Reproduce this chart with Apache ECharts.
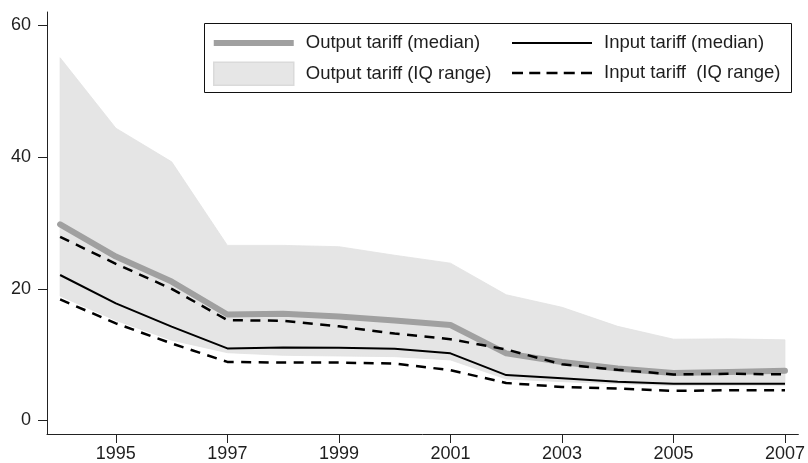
<!DOCTYPE html>
<html>
<head>
<meta charset="utf-8">
<script src="https://cdn.jsdelivr.net/npm/echarts@6/dist/echarts.min.js"></script>
<style>
html,body{margin:0;padding:0;background:#fff;}
#c{width:808px;height:463px;}
</style>
</head>
<body>
<div id="c"></div>
<script>
// ---- data ----
const years = [1994, 1995, 1996, 1997, 1998, 1999, 2000, 2001, 2002, 2003, 2004, 2005, 2006, 2007];
const outputMedian = [29.8, 24.9, 21.1, 16.1, 16.2, 15.8, 15.2, 14.5, 10.2, 8.9, 7.9, 7.2, 7.35, 7.55];
const outputIQLow  = [18.9, 15.2, 12.2, 10.3, 9.9, 9.8, 9.7, 9.2, 6.3, 5.9, 5.6, 5.3, 5.3, 5.3];
const outputIQHigh = [55.1, 44.4, 39.3, 26.6, 26.6, 26.4, 25.1, 23.9, 19.1, 17.2, 14.3, 12.35, 12.4, 12.25];
const inputMedian  = [22.1, 17.8, 14.25, 10.95, 11.1, 11.05, 10.9, 10.2, 6.9, 6.4, 5.9, 5.6, 5.6, 5.6];
const inputIQLow   = [18.4, 14.75, 11.7, 8.9, 8.8, 8.8, 8.65, 7.65, 5.7, 5.1, 4.85, 4.5, 4.6, 4.6];
const inputIQHigh  = [27.9, 23.8, 20.0, 15.25, 15.15, 14.3, 13.2, 12.35, 10.8, 8.55, 7.7, 7.0, 7.1, 7.0];
const xTicks = [1995, 1997, 1999, 2001, 2003, 2005, 2007];
const yTicks = [0, 20, 40, 60];
const seriesNames = {
  outMed: 'Output tariff (median)',
  outIQ: 'Output tariff (IQ range)',
  inMed: 'Input tariff (median)',
  inIQ: 'Input tariff  (IQ range)'
};

// ---- build ----
const pairs = arr => years.map((y, i) => [y, arr[i]]);

const FONT = "'Liberation Sans', Arial, Helvetica, sans-serif";
const TXT = '#1e1e1e';
const GRAY = '#a0a0a0';
const BAND = '#e5e5e5';

const dashIcon = 'path://M0,0H11V2.5H0Z M17.25,0H28.25V2.5H17.25Z M34.5,0H45.5V2.5H34.5Z M51.75,0H62.75V2.5H51.75Z M69,0H80V2.5H69Z';
const solidIcon = 'path://M0,0H80V2.2H0Z';
const thickIcon = 'path://M0,0H80V6H0Z';

const legendCommon = {
  orient: 'vertical',
  top: 31.5,
  itemWidth: 80,
  itemHeight: 23,
  itemGap: 7,
  selectedMode: false,
  padding: 0,
  itemStyle: { borderWidth: 0 },
  textStyle: { fontFamily: FONT, fontSize: 18.5, color: TXT, padding: [0, 0, 0, 7], lineHeight: 23 }
};

// band polygon: upper edge left->right, lower edge right->left, via the chart's scales
function renderBand(params, api) {
  if (params.dataIndex !== 0) return null;
  const pts = [];
  for (let i = 0; i < years.length; i++) pts.push(api.coord([years[i], outputIQHigh[i]]));
  for (let i = years.length - 1; i >= 0; i--) pts.push(api.coord([years[i], outputIQLow[i]]));
  return { type: 'polygon', shape: { points: pts }, style: { fill: BAND, stroke: '#e2e2e2', lineWidth: 0.8 } };
}

const chart = echarts.init(document.getElementById('c'), null, { renderer: 'canvas' });
chart.setOption({
  animation: false,
  backgroundColor: '#fff',
  grid: { left: 47, right: 5, top: 12, bottom: 29, containLabel: false },
  xAxis: {
    type: 'value',
    min: 1993.765,
    max: 2007.24,
    axisLine: { show: true, onZero: false, lineStyle: { color: '#222', width: 1 } },
    axisTick: { show: true, length: 9, lineStyle: { color: '#222', width: 1 }, customValues: xTicks },
    axisLabel: { customValues: xTicks, formatter: v => String(v), fontFamily: FONT, fontSize: 18, color: TXT, margin: 11 },
    splitLine: { show: false }
  },
  yAxis: {
    type: 'value',
    min: -2.05,
    max: 62.05,
    axisLine: { show: true, onZero: false, lineStyle: { color: '#222', width: 1 } },
    axisTick: { show: true, length: 9, lineStyle: { color: '#222', width: 1 }, customValues: yTicks },
    axisLabel: { customValues: yTicks, formatter: v => String(v), fontFamily: FONT, fontSize: 18, color: TXT, margin: 16 },
    splitLine: { show: false }
  },
  legend: [
    Object.assign({}, legendCommon, {
      left: 213,
      data: [
        { name: seriesNames.outMed, icon: thickIcon, itemStyle: { color: GRAY, borderWidth: 0 } },
        { name: seriesNames.outIQ, icon: 'rect', itemStyle: { color: '#e6e6e6', borderColor: '#dadada', borderWidth: 1.5 } }
      ]
    }),
    Object.assign({}, legendCommon, {
      left: 512,
      data: [
        { name: seriesNames.inMed, icon: solidIcon, itemStyle: { color: '#000', borderWidth: 0 } },
        { name: seriesNames.inIQ, icon: dashIcon, itemStyle: { color: '#000', borderWidth: 0 } }
      ]
    })
  ],
  graphic: [{
    type: 'rect',
    shape: { x: 204.5, y: 23.5, width: 587, height: 69 },
    style: { fill: 'transparent', stroke: '#111', lineWidth: 1 },
    silent: true,
    z: 10
  }],
  series: [
    {
      name: seriesNames.outIQ, type: 'custom', silent: true,
      data: years.map((y, i) => [y, outputIQLow[i], outputIQHigh[i]]),
      encode: { x: 0, y: [1, 2] },
      itemStyle: { color: BAND },
      renderItem: renderBand, z: 1
    },
    {
      name: seriesNames.outMed, type: 'line', symbol: 'none', silent: true,
      data: pairs(outputMedian),
      itemStyle: { color: GRAY },
      lineStyle: { color: GRAY, width: 6, cap: 'round', join: 'round' }, z: 2
    },
    {
      name: seriesNames.inMed, type: 'line', symbol: 'none', silent: true,
      data: pairs(inputMedian),
      itemStyle: { color: '#000' },
      lineStyle: { color: '#000', width: 2, join: 'round' }, z: 3
    },
    {
      name: seriesNames.inIQ, type: 'line', symbol: 'none', silent: true,
      data: pairs(inputIQHigh),
      itemStyle: { color: '#000' },
      lineStyle: { color: '#000', width: 2.5, type: [10, 7.5] }, z: 3
    },
    {
      name: seriesNames.inIQ, type: 'line', symbol: 'none', silent: true,
      data: pairs(inputIQLow),
      itemStyle: { color: '#000' },
      lineStyle: { color: '#000', width: 2.5, type: [10, 7.5] }, z: 3
    }
  ]
});
</script>
</body>
</html>
